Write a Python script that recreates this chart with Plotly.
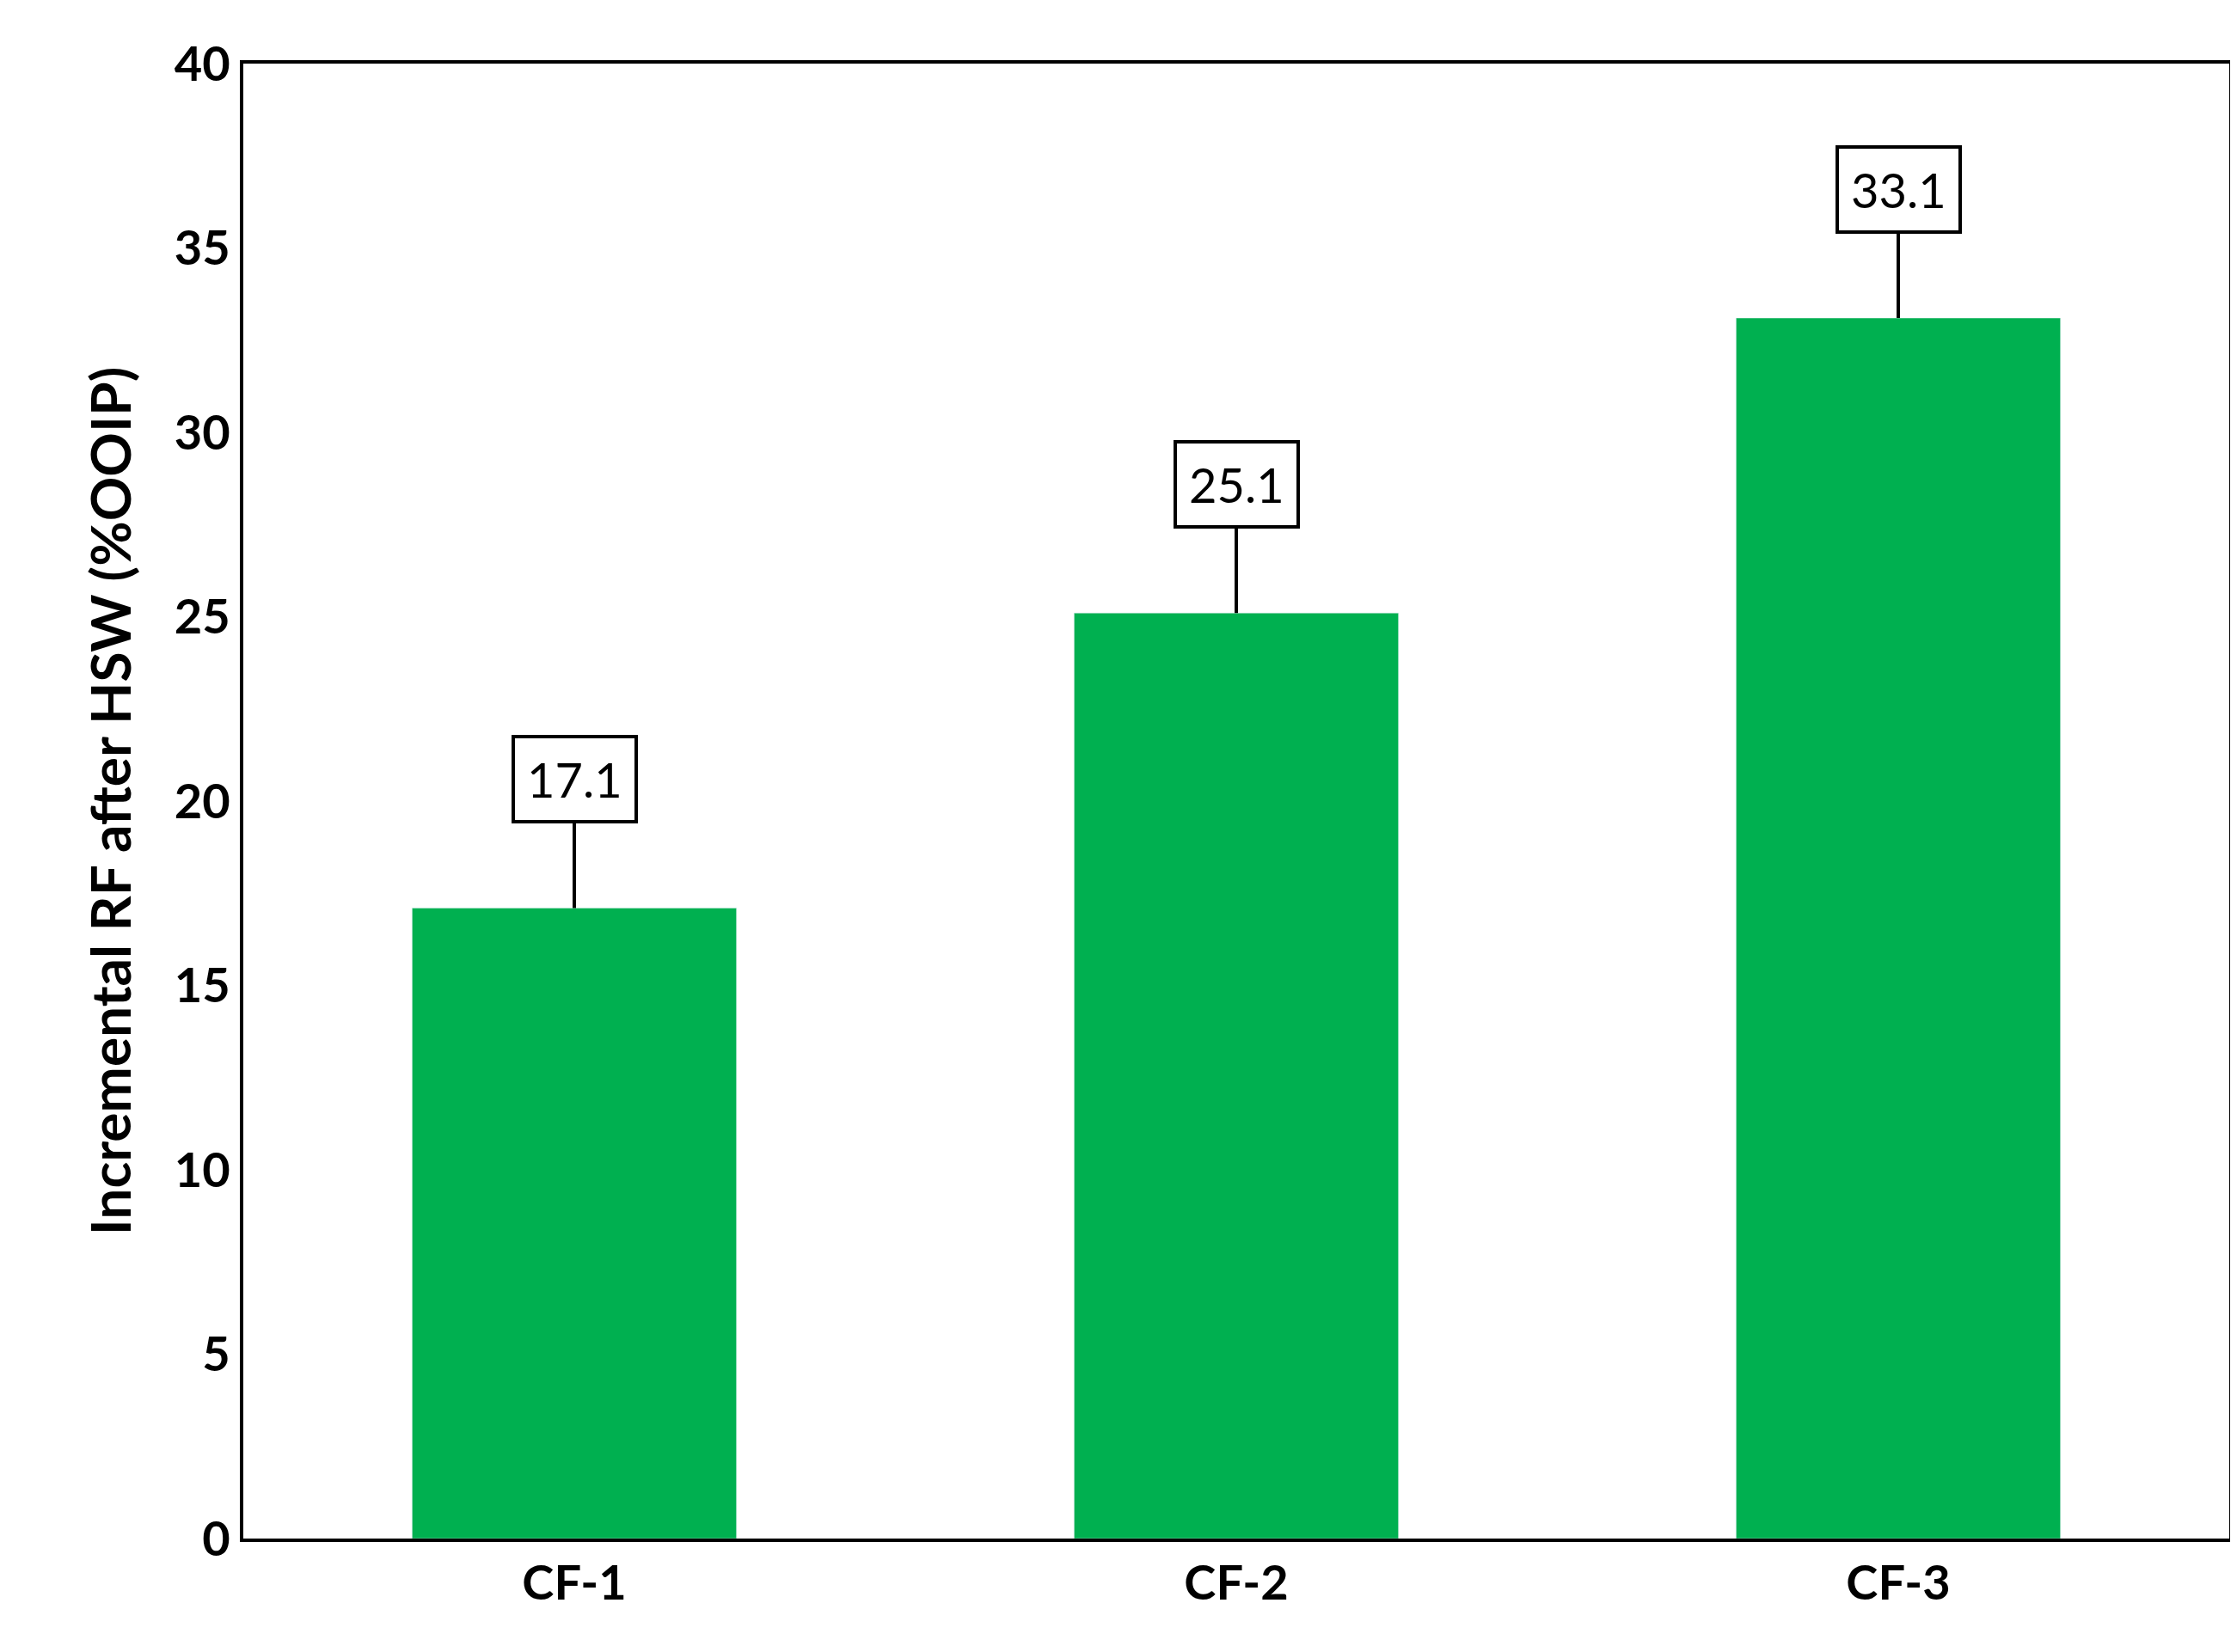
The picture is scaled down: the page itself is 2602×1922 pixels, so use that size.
import plotly.graph_objects as go

categories = ["CF-1", "CF-2", "CF-3"]
values = [17.1, 25.1, 33.1]
labels = ["17.1", "25.1", "33.1"]

fig = go.Figure(go.Bar(x=categories, y=values, marker_color="#00B050", width=0.49))

for c, v, t in zip(categories, values, labels):
    fig.add_annotation(x=c, y=v, xref="x", yref="y", text=t, showarrow=True,
                       ax=0, ay=-150, arrowhead=0, arrowwidth=4, arrowcolor="black",
                       bordercolor="black", borderwidth=4, bgcolor="white", borderpad=14,
                       font=dict(family="Lato", size=56, color="black"))

fig.update_layout(
    width=2602, height=1922, plot_bgcolor="white", paper_bgcolor="white",
    margin=dict(l=275, r=17, t=66, b=140), showlegend=False,
    font=dict(family="Lato", color="black"),
)
fig.update_xaxes(showline=True, linewidth=4, linecolor="black", mirror=True,
                 tickfont=dict(size=56, family="Lato", weight="bold"), ticks="")
fig.update_yaxes(range=[0, 40], dtick=5, showline=True, linewidth=4, linecolor="black", mirror=True,
                 showgrid=False, ticks="", tickfont=dict(size=56, family="Lato", weight="bold"),
                 title=dict(text="Incremental RF after HSW (%OOIP)", font=dict(size=64, family="Lato", weight="bold"), standoff=30))
fig.write_html("out.html")
